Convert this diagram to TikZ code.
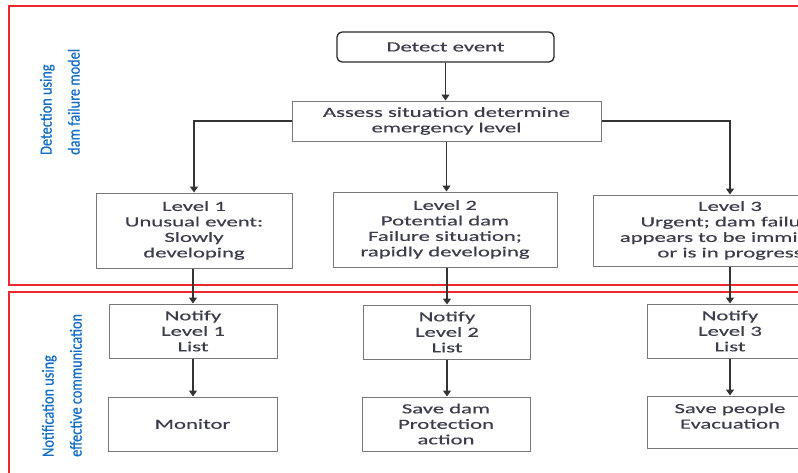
\documentclass[tikz,border=0pt]{standalone}
\usepackage{fontspec}
\setmainfont{Carlito}[FakeStretch=1.62,FakeBold=0.4]
\newfontfamily\sidefont{Carlito}[FakeStretch=0.84,FakeBold=0.6]
\usetikzlibrary{arrows.meta}
\definecolor{sideblue}{RGB}{20,110,200}
\definecolor{boxgray}{RGB}{120,120,120}
\definecolor{txt}{RGB}{60,60,75}
\definecolor{frame}{RGB}{235,40,45}
\begin{document}
\begin{tikzpicture}[x=1pt,y=-1pt,
  box/.style={draw=boxgray, line width=1pt, align=center, inner sep=0pt,
    text=txt, font=\fontsize{14}{15.5}\selectfont},
  arr/.style={draw=black!80, line width=1.3pt, -{Triangle[width=8pt,length=6pt]}},
  frm/.style={draw=frame, line width=1.6pt},
  side/.style={rotate=90, align=left, text=sideblue, inner sep=0pt,
    font=\sidefont\fontsize{17}{28}\selectfont}]
\useasboundingbox (0,0) rectangle (798,472);
\clip (0,0) rectangle (798,472);
% frames
\draw[frm] (9,6) rectangle (830,285);
\draw[frm] (9,292) rectangle (830,500);
% side labels
\node[side, anchor=south west] (lab1) at (80,155) {Detection using\\dam failure model};
\node[side, anchor=south west] (lab2) at (82,457) {Notification using\\effective communication};
% top
\node[box, draw=black!85, line width=1.3pt, rounded corners=5pt, minimum width=217pt, minimum height=30pt] (detect) at (445.5,47) {Detect event};
\node[box, minimum width=309pt, minimum height=40pt] (assess) at (446.5,121) {Assess situation determine\\emergency level};
\node[box, minimum width=196pt, minimum height=75pt] (l1) at (194,230.5) {Level 1\\Unusual event:\\Slowly\\developing};
\node[box, minimum width=224pt, minimum height=75pt] (l2) at (445,229.5) {Level 2\\Potential dam\\Failure situation;\\rapidly developing};
\node[box, minimum width=274pt, minimum height=71pt] (l3) at (730,230.5) {Level 3\\Urgent; dam failure\\appears to be imminent\\or is in progress};
% bottom
\node[box, minimum width=168pt, minimum height=54pt] (n1) at (193,331) {Notify\\Level 1\\List};
\node[box, minimum width=169pt, minimum height=54pt] (m1) at (192.5,424) {Monitor};
\node[box, minimum width=167pt, minimum height=54pt] (n2) at (447,332) {Notify\\Level 2\\List};
\node[box, minimum width=168pt, minimum height=54pt] (s2) at (446,424) {Save dam\\Protection\\action};
\node[box, minimum width=166pt, minimum height=54pt] (n3) at (730,331) {Notify\\Level 3\\List};
\node[box, minimum width=166pt, minimum height=52pt, text depth=12pt] (s3) at (730,422) {Save people\\Evacuation};
% connectors
\draw[arr] (detect.south) -- (detect.south |- assess.north);
\draw[arr] (assess.west) -| (l1.north);
\draw[arr] (assess.south) -- (assess.south |- l2.north);
\draw[arr] (assess.east) -| (l3.north);
\draw[arr] (n1.north |- l1.south) -- (n1.north);
\draw[arr] (n2.north |- l2.south) -- (n2.north);
\draw[arr] (l3.south) -- (l3.south |- n3.north);
\draw[arr] (n1.south) -- (n1.south |- m1.north);
\draw[arr] (n2.south) -- (n2.south |- s2.north);
\draw[arr] (n3.south) -- (n3.south |- s3.north);
\end{tikzpicture}
\end{document}
